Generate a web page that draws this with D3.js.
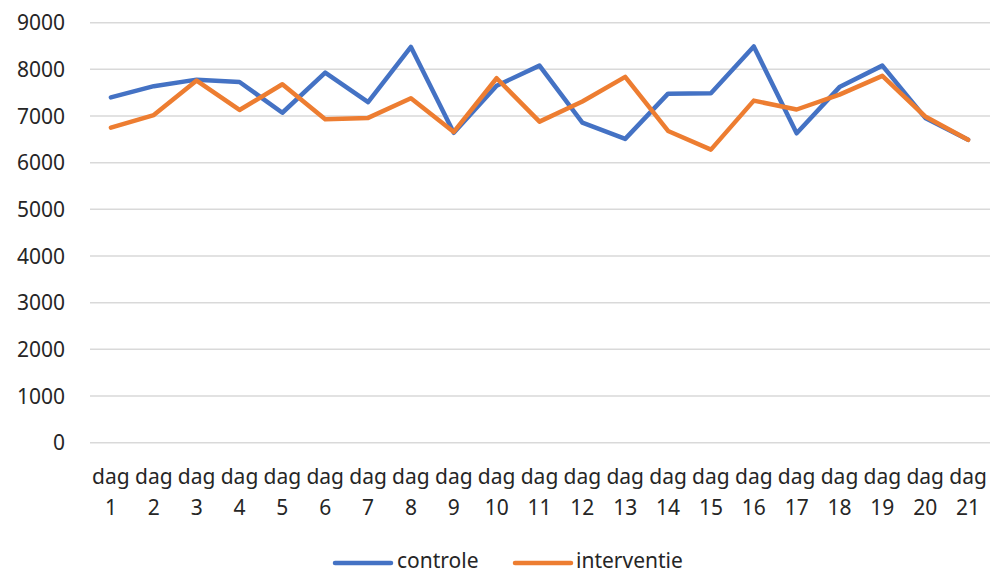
<!DOCTYPE html>
<html><head><meta charset="utf-8">
<script src="https://cdn.jsdelivr.net/npm/d3@7"></script>
<style>body{margin:0;background:#fff}svg{display:block}text{font-family:"Noto Sans",sans-serif;fill:#262626}</style>
</head><body><svg id="c" width="1000" height="575"></svg>
<script>
const categories = d3.range(1,22).map(d => "dag " + d);
const controle = [7400,7640,7780,7730,7070,7930,7300,8480,6640,7650,8080,6860,6510,7480,7490,8490,6630,7620,8080,6960,6490];
const interventie = [6750,7020,7760,7130,7680,6930,6960,7380,6660,7810,6880,7310,7840,6680,6280,7330,7140,7460,7860,6990,6490];
const yTicks = [0,1000,2000,3000,4000,5000,6000,7000,8000,9000];
const seriesNames = ["controle","interventie"];
const colors = ["#4472C4","#ED7D31"];

const svg = d3.select("#c");
const x = d3.scaleBand().domain(categories).range([89.5, 989.5]);
const y = d3.scaleLinear().domain([0,9000]).range([442.7, 22.7]);

// grid
svg.append("g").selectAll("line").data(yTicks).join("line")
  .attr("x1", 90).attr("x2", 990)
  .attr("y1", d => y(d)).attr("y2", d => y(d))
  .attr("stroke", "#d9d9d9").attr("stroke-width", 1.5);

// y labels
svg.append("g").selectAll("text").data(yTicks).join("text")
  .attr("x", 65).attr("y", d => y(d)).attr("dy", "0.36em")
  .attr("text-anchor", "end").attr("font-size", 21).text(d => d);

// x labels
const xl = svg.append("g").selectAll("text").data(categories).join("text")
  .attr("text-anchor", "middle").attr("font-size", 21)
  .attr("transform", d => `translate(${x(d)+x.bandwidth()/2},0)`);
xl.append("tspan").attr("x", 0).attr("y", 484).text(d => d.split(" ")[0]);
xl.append("tspan").attr("x", 0).attr("y", 515).text(d => d.split(" ")[1]);

const line = d3.line().x((d,i) => x(categories[i]) + x.bandwidth()/2).y(d => y(d));
[controle, interventie].forEach((s, k) => {
  svg.append("path").datum(s).attr("d", line)
    .attr("fill", "none").attr("stroke", colors[k]).attr("stroke-width", 4.5)
    .attr("stroke-linejoin", "round").attr("stroke-linecap", "round");
});

// legend
const lg = [{x1:335,x2:391,tx:397},{x1:515,x2:571,tx:576}];
seriesNames.forEach((n,k) => {
  svg.append("line").attr("x1", lg[k].x1).attr("x2", lg[k].x2).attr("y1", 563).attr("y2", 563)
    .attr("stroke", colors[k]).attr("stroke-width", 4.5).attr("stroke-linecap", "round");
  svg.append("text").attr("x", lg[k].tx).attr("y", 568).attr("font-size", 21).text(n);
});
</script></body></html>
